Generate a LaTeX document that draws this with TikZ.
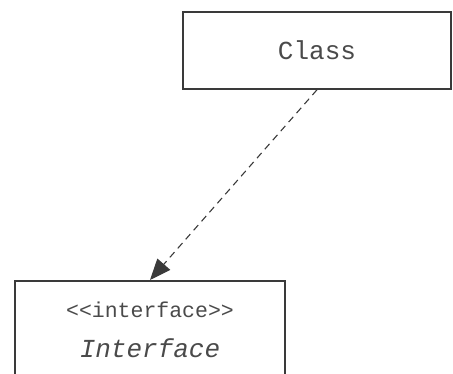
\documentclass[tikz,border=0pt]{standalone}
\usepackage{fontspec}
\setmonofont{Liberation Mono}
\usepackage{tikz}
\usetikzlibrary{arrows.meta,positioning}
\definecolor{lgray}{HTML}{3A3A3A}
\definecolor{tgray}{HTML}{4A4A4A}

\tikzset{
  umlbox/.style={draw=lgray, line width=1.6pt, rectangle, inner sep=0pt},
  uname/.style={font=\fontsize{26}{30}\selectfont\ttfamily, text=tgray, inner sep=0pt},
  stereo/.style={font=\fontsize{21.5}{26}\selectfont\ttfamily, text=tgray, inner sep=0pt},
  dep/.style={draw=lgray, line width=1.1pt, dash pattern=on 7pt off 5pt,
              -{Triangle[length=21pt,width=17pt]}}
}

\begin{document}
\begin{tikzpicture}[x=1pt,y=1pt]

  \clip (0,0) rectangle (453,373);

  % classe
  \node[umlbox, uname, minimum width=268pt, minimum height=77pt] (cls) at (317,322.5) {Class};

  % interface (caixa corta na borda de baixo)
  \node[umlbox, minimum width=270pt, minimum height=120pt, anchor=north] (iface) at (150,93) {};
  \node[stereo, below=22pt of iface.north] (ster) {<<interface>>};
  \node[uname, below=20pt of ster] (iname) {\itshape Interface};

  % dependencia
  \draw[dep] (cls.south) -- (iface.north);

\end{tikzpicture}
\end{document}
